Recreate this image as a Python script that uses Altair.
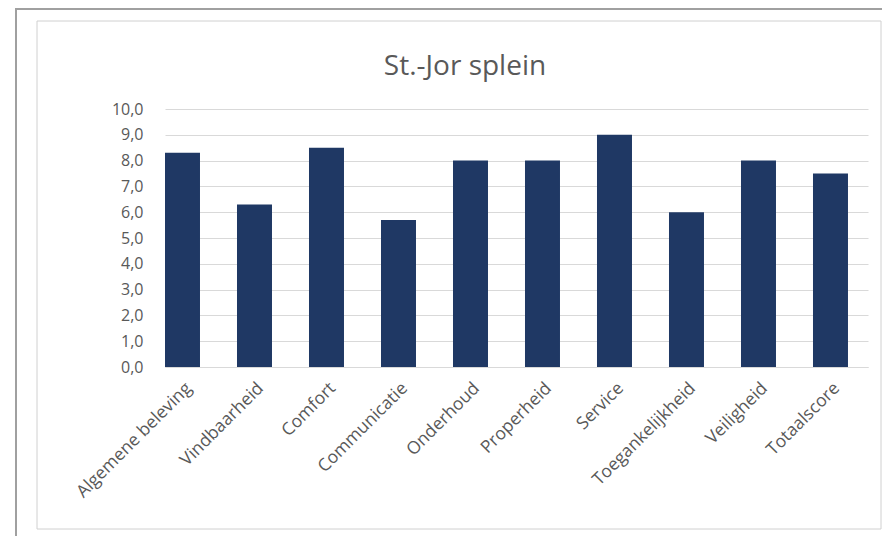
import altair as alt
import pandas as pd

categories = ["Algemene beleving", "Vindbaarheid", "Comfort", "Communicatie",
              "Onderhoud", "Properheid", "Service", "Toegankelijkheid",
              "Veiligheid", "Totaalscore"]
scores = [8.3, 6.3, 8.5, 5.7, 8.0, 8.0, 9.0, 6.0, 8.0, 7.5]
y_ticks = [0, 1, 2, 3, 4, 5, 6, 7, 8, 9, 10]
title_text = "St.-Jor splein"

df = pd.DataFrame({"categorie": categories, "score": scores})

FONT = "Open Sans"
TXT = "#595959"
GRID = "#d9d9d9"
BAR = "#1f3864"

W, H = 703, 258
one = alt.Data(values=[{"titel": title_text}])

inner_frame = alt.Chart(one).mark_rect(
    fill="white", fillOpacity=0, stroke="#d0d0d0", strokeWidth=1
).encode(
    x=alt.value(-128), x2=alt.value(716), y=alt.value(-88), y2=alt.value(420)
)

outer_left = alt.Chart(one).mark_rule(color="#a0a0a0", strokeWidth=2).encode(
    x=alt.value(-149), y=alt.value(-101), y2=alt.value(430)
)
outer_top = alt.Chart(one).mark_rule(color="#a0a0a0", strokeWidth=2).encode(
    x=alt.value(-150), x2=alt.value(720), y=alt.value(-100)
)

title_mark = alt.Chart(one).mark_text(
    font=FONT, fontSize=28, color=TXT, align="center", baseline="alphabetic"
).encode(
    x=alt.value(300), y=alt.value(-34), text="titel:N"
)

bars = alt.Chart(df).mark_bar(color=BAR).encode(
    x=alt.X("categorie:N", sort=categories,
            scale=alt.Scale(paddingInner=0.514, paddingOuter=0.139, align=0),
            axis=alt.Axis(title=None, labelAngle=-45, labelFont=FONT,
                          labelFontSize=17.5, labelColor=TXT, ticks=False,
                          domainColor=GRID, labelPadding=12)),
    y=alt.Y("score:Q", scale=alt.Scale(domain=[0, 10], nice=False),
            axis=alt.Axis(title=None, values=y_ticks, gridColor=GRID,
                          domain=False, ticks=False, labelFont=FONT,
                          labelFontSize=16, labelColor=TXT, labelPadding=22,
                          labelExpr="replace(format(datum.value, '.1f'), '.', ',')"))
)

chart = alt.layer(inner_frame, outer_left, outer_top, title_mark, bars).properties(
    width=W, height=H,
    autosize=alt.AutoSizeParams(type="none"),
    padding={"left": 157, "top": 101, "right": 14, "bottom": 169},
    background="white",
).configure_view(stroke=None)

chart.save("out.html", embed_options={"renderer": "svg", "actions": False})
